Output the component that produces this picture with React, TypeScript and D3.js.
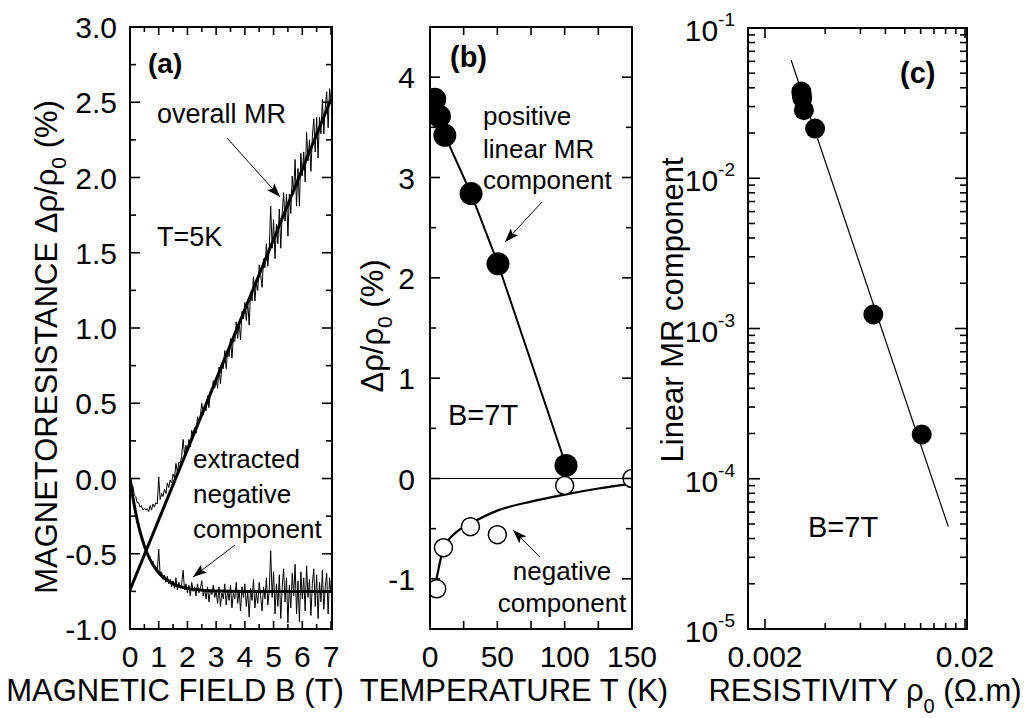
import React from 'react';
import * as d3 from 'd3';

// ---------- Panel (a) data: MR vs magnetic field, T = 5 K ----------
const B_STEP = 0.05;
const overallMR = [
  0.00, -0.04, -0.05, -0.11, -0.12, -0.16, -0.16, -0.19, -0.18, -0.21,
  -0.20, -0.21, -0.20, -0.22, -0.18, -0.21, -0.17, -0.19, -0.16, -0.17,
  0.01, -0.14, -0.10, -0.12, -0.07, -0.10, -0.03, -0.06, -0.01, -0.03,
  0.03, 0.00, 0.10, 0.04, 0.11, 0.10, 0.15, 0.26, 0.16, 0.22,
  0.18, 0.26, 0.21, 0.32, 0.29, 0.34, 0.30, 0.41, 0.37, 0.42,
  0.50, 0.42, 0.48, 0.45, 0.55, 0.47, 0.58, 0.57, 0.65, 0.60,
  0.66, 0.60, 0.74, 0.63, 0.74, 0.73, 0.85, 0.73, 0.85, 0.81,
  0.93, 0.80, 0.93, 0.91, 1.04, 0.93, 1.04, 0.92, 1.11, 1.06,
  1.17, 1.05, 1.17, 1.02, 1.24, 1.18, 1.34, 1.18, 1.30, 1.25,
  1.42, 1.35, 1.27, 1.46, 1.40, 1.56, 1.41, 1.53, 1.81, 1.53,
  1.72, 1.46, 1.69, 1.56, 1.79, 1.53, 1.76, 1.90, 1.71, 1.89,
  1.61, 1.89, 1.76, 2.01, 1.89, 2.12, 1.81, 2.06, 1.81, 2.16,
  2.01, 2.17, 1.97, 2.30, 2.11, 2.25, 2.04, 2.27, 2.39, 2.17,
  2.40, 2.13, 2.40, 2.29, 2.52, 2.29, 2.46, 2.57, 2.33, 2.59,
  2.51,
];
const extractedNeg = [
  0.00, -0.07, -0.11, -0.19, -0.22, -0.29, -0.31, -0.36, -0.38, -0.43,
  -0.44, -0.48, -0.49, -0.53, -0.52, -0.57, -0.55, -0.60, -0.59, -0.62,
  -0.47, -0.64, -0.62, -0.67, -0.64, -0.69, -0.65, -0.70, -0.67, -0.72,
  -0.68, -0.73, -0.66, -0.74, -0.69, -0.73, -0.70, -0.61, -0.74, -0.70,
  -0.76, -0.71, -0.78, -0.69, -0.75, -0.72, -0.78, -0.70, -0.76, -0.73,
  -0.68, -0.78, -0.74, -0.80, -0.72, -0.82, -0.74, -0.77, -0.71, -0.79,
  -0.75, -0.83, -0.72, -0.85, -0.76, -0.80, -0.70, -0.84, -0.74, -0.81,
  -0.71, -0.86, -0.76, -0.80, -0.69, -0.83, -0.74, -0.88, -0.72, -0.79,
  -0.70, -0.85, -0.75, -0.92, -0.73, -0.81, -0.67, -0.86, -0.76, -0.83,
  -0.69, -0.78, -0.88, -0.72, -0.80, -0.66, -0.84, -0.74, -0.48, -0.79,
  -0.62, -0.90, -0.70, -0.85, -0.64, -0.93, -0.72, -0.60, -0.82, -0.66,
  -0.96, -0.71, -0.86, -0.63, -0.78, -0.57, -0.90, -0.68, -0.95, -0.62,
  -0.80, -0.66, -0.88, -0.58, -0.79, -0.67, -0.91, -0.70, -0.60, -0.85,
  -0.64, -0.93, -0.69, -0.82, -0.61, -0.87, -0.72, -0.63, -0.90, -0.66,
  -0.76,
];
const linearFitB = [0, 7];
const linearFitMR = [-0.74, 2.52];
const negFitB = [0, 0.1, 0.2, 0.3, 0.4, 0.5, 0.6, 0.7, 0.8, 1.0, 1.2, 1.4, 1.6, 2.0, 2.5, 3.0, 4.0, 5.0, 6.0, 7.0];
const negFitMR = [0, -0.125, -0.229, -0.316, -0.387, -0.447, -0.497, -0.539, -0.573, -0.626, -0.663, -0.688, -0.709, -0.73, -0.742, -0.747, -0.75, -0.75, -0.75, -0.75];
const xTicksA = [0, 1, 2, 3, 4, 5, 6, 7];
const yTicksA = [-1.0, -0.5, 0.0, 0.5, 1.0, 1.5, 2.0, 2.5, 3.0];

// ---------- Panel (b) data: components vs temperature, B = 7 T ----------
const tempPos = [3.5, 7, 11, 30.5, 50.5, 101];
const mrPos = [3.78, 3.61, 3.42, 2.84, 2.14, 0.13];
const tempNeg = [5, 10, 30, 50, 100, 150];
const mrNeg = [-1.1, -0.69, -0.48, -0.56, -0.07, 0.0];
const negCurveT = [2.5, 5, 10, 20, 30, 50, 75, 100, 125, 150];
const negCurveMR = [-1.16, -0.99, -0.7, -0.53, -0.45, -0.32, -0.23, -0.16, -0.1, -0.05];
const xTicksB = [0, 50, 100, 150];
const yTicksB = [-1, 0, 1, 2, 3, 4];

// ---------- Panel (c) data: linear MR component vs resistivity ----------
const rho0 = [0.00304, 0.00305, 0.00307, 0.00313, 0.00356, 0.00696, 0.01215];
const linMR = [0.0378, 0.0361, 0.0342, 0.0284, 0.0214, 0.00124, 0.000197];
const fitRho = [0.0027, 0.0165];
const fitLinMR = [0.0612, 0.000048];
const xTicksC = [0.002, 0.02];
const yTicksCExp = [-1, -2, -3, -4, -5];

const FONT = "'Liberation Sans', Arial, Helvetica, sans-serif";

export default function App() {
  // scales
  const xA = d3.scaleLinear().domain([0, 7]).range([130, 331]);
  const yA = d3.scaleLinear().domain([-1, 3]).range([629, 27]);
  const xB = d3.scaleLinear().domain([0, 150]).range([430, 632]);
  const yB = d3.scaleLinear().domain([-1.5, 4.5]).range([629, 27]);
  const xC = d3.scaleLog().domain([0.002, 0.02]).range([765, 965]);
  const yC = d3.scaleLog().domain([1e-5, 1e-1]).range([629, 28]);

  const frameA = { x0: 130, x1: 332, y0: 27, y1: 629 };
  const frameB = { x0: 430, x1: 632, y0: 27, y1: 629 };
  const frameC = { x0: 748, x1: 967, y0: 28, y1: 629 };

  const lineA = d3.line<number>().x((_, i) => xA(i * B_STEP)).y((d) => yA(d));
  const linFitA = d3.line<number>().x((_, i) => xA(linearFitB[i])).y((d) => yA(d));
  const negFitA = d3.line<number>().x((_, i) => xA(negFitB[i])).y((d) => yA(d)).curve(d3.curveMonotoneX);

  const posLineB = d3.line<number>().x((_, i) => xB(tempPos[i])).y((d) => yB(d));
  const negLineB = d3.line<number>().x((_, i) => xB(negCurveT[i])).y((d) => yB(d)).curve(d3.curveMonotoneX);

  const fitLineC = d3.line<number>().x((_, i) => xC(fitRho[i])).y((d) => yC(d));

  const tickStroke = { stroke: '#000', strokeWidth: 1.6 };

  const yTicks = (ys: number[], f: { x0: number; x1: number }, len: number) =>
    ys.map((y, i) => (
      <g key={`yt${f.x0}-${i}-${len}`}>
        <line x1={f.x0} x2={f.x0 + len} y1={y} y2={y} {...tickStroke} />
        <line x1={f.x1} x2={f.x1 - len} y1={y} y2={y} {...tickStroke} />
      </g>
    ));
  const xTicks = (xs: number[], f: { y0: number; y1: number }, len: number, key: string) =>
    xs.map((x, i) => (
      <g key={`xt${key}-${i}-${len}`}>
        <line x1={x} x2={x} y1={f.y1} y2={f.y1 - len} {...tickStroke} />
        <line x1={x} x2={x} y1={f.y0} y2={f.y0 + len} {...tickStroke} />
      </g>
    ));

  const aMajorY = yTicksA.map((v) => yA(v));
  const aMinorY = d3.range(-0.75, 3, 0.5).map((v) => yA(v));
  const aMajorX = xTicksA.map((v) => xA(v));
  const aMinorX = d3.range(0.5, 7, 1).map((v) => xA(v));

  const bMajorY = yTicksB.map((v) => yB(v));
  const bMinorY = [-1.5, -0.5, 0.5, 1.5, 2.5, 3.5, 4.5].map((v) => yB(v));
  const bMajorX = [0, 50, 100, 150].map((v) => xB(v));
  const bMinorX = [25, 75, 125].map((v) => xB(v));

  const cMajorY = yTicksCExp.map((e) => yC(Math.pow(10, e)));
  const cMinorY: number[] = [];
  [-5, -4, -3, -2].forEach((e) => {
    for (let k = 2; k <= 9; k++) cMinorY.push(yC(k * Math.pow(10, e)));
  });
  const cMajorX = xTicksC.map((v) => xC(v));
  const cMinorX = [2, 3, 4, 5, 6, 7, 8, 9].map((k) => xC(0.002 * k));

  const txt = { fontFamily: FONT, fill: '#000' } as const;
  const TICK_FS = 30;

  return (
    <svg width={1029} height={718} viewBox="0 0 1029 718"
      style={{ position: 'absolute', left: 0, top: 0, background: '#fff' }}>
      <defs>
        <clipPath id="clipA"><rect x={frameA.x0} y={frameA.y0} width={frameA.x1 - frameA.x0} height={frameA.y1 - frameA.y0} /></clipPath>
        <clipPath id="clipB"><rect x={frameB.x0} y={frameB.y0} width={frameB.x1 - frameB.x0} height={frameB.y1 - frameB.y0} /></clipPath>
        <clipPath id="clipC"><rect x={frameC.x0} y={frameC.y0} width={frameC.x1 - frameC.x0} height={frameC.y1 - frameC.y0} /></clipPath>
        <marker id="arrow" markerUnits="userSpaceOnUse" markerWidth={16} markerHeight={10}
          refX={14} refY={5} orient="auto">
          <path d="M0,0 L14,5 L0,10 L3,5 z" fill="#000" />
        </marker>
      </defs>
      <rect x={0} y={0} width={1029} height={718} fill="#fff" />

      {/* ================= Panel (a) ================= */}
      <g clipPath="url(#clipA)">
        <path d={lineA(overallMR) || ''} fill="none" stroke="#000" strokeWidth={1} />
        <path d={lineA(extractedNeg) || ''} fill="none" stroke="#000" strokeWidth={1} />
        <path d={linFitA(linearFitMR) || ''} fill="none" stroke="#000" strokeWidth={3} />
        <path d={negFitA(negFitMR) || ''} fill="none" stroke="#000" strokeWidth={3} />
      </g>
      <rect x={frameA.x0} y={frameA.y0} width={frameA.x1 - frameA.x0} height={frameA.y1 - frameA.y0}
        fill="none" stroke="#000" strokeWidth={2} />
      {yTicks(aMajorY, frameA, 10)}
      {yTicks(aMinorY, frameA, 6)}
      {xTicks(aMajorX, frameA, 8, 'a')}
      {xTicks(aMinorX, frameA, 5, 'am')}
      {yTicksA.map((v) => (
        <text key={`aly${v}`} x={117} y={yA(v) + 11} textAnchor="end" fontSize={TICK_FS} {...txt}>
          {v.toFixed(1)}
        </text>
      ))}
      {xTicksA.map((v) => (
        <text key={`alx${v}`} x={xA(v)} y={667} textAnchor="middle" fontSize={TICK_FS} {...txt}>{v}</text>
      ))}
      <text x={148} y={73} fontSize={28} fontWeight="bold" {...txt}>(a)</text>
      <text x={157} y={123} fontSize={27} {...txt}>overall MR</text>
      <line x1={227} y1={138} x2={280} y2={197} stroke="#000" strokeWidth={1} markerEnd="url(#arrow)" />
      <text x={157} y={246} fontSize={27} {...txt}>T=5K</text>
      <text x={193} y={468} fontSize={26} {...txt}>extracted</text>
      <text x={193} y={503} fontSize={26} {...txt}>negative</text>
      <text x={193} y={538} fontSize={26} {...txt}>component</text>
      <line x1={235} y1={545} x2={193} y2={577} stroke="#000" strokeWidth={1} markerEnd="url(#arrow)" />
      <text transform="translate(57,347) rotate(-90)" textAnchor="middle" fontSize={31} {...txt}>
        MAGNETORESISTANCE Δρ/ρ<tspan fontSize={21} dy={9}>0</tspan><tspan dy={-9}> (%)</tspan>
      </text>
      <text x={175} y={701} textAnchor="middle" fontSize={31} {...txt}>MAGNETIC FIELD B (T)</text>

      {/* ================= Panel (b) ================= */}
      <line x1={frameB.x0} x2={frameB.x1} y1={yB(0)} y2={yB(0)} stroke="#000" strokeWidth={1} />
      <g clipPath="url(#clipB)">
        <path d={posLineB(mrPos) || ''} fill="none" stroke="#000" strokeWidth={2} />
        <path d={negLineB(negCurveMR) || ''} fill="none" stroke="#000" strokeWidth={2.2} />
        {mrPos.map((v, i) => (
          <circle key={`bp${i}`} cx={xB(tempPos[i])} cy={yB(v)} r={11.5} fill="#000" />
        ))}
        {mrNeg.map((v, i) => (
          <circle key={`bn${i}`} cx={xB(tempNeg[i])} cy={yB(v)} r={9} fill="#fff" stroke="#000" strokeWidth={1.5} />
        ))}
      </g>
      <rect x={frameB.x0} y={frameB.y0} width={frameB.x1 - frameB.x0} height={frameB.y1 - frameB.y0}
        fill="none" stroke="#000" strokeWidth={2} />
      {yTicks(bMajorY, frameB, 10)}
      {yTicks(bMinorY, frameB, 6)}
      {xTicks(bMajorX, frameB, 8, 'b')}
      {xTicks(bMinorX, frameB, 8, 'bm')}
      {yTicksB.map((v) => (
        <text key={`bly${v}`} x={415} y={yB(v) + 11} textAnchor="end" fontSize={TICK_FS} {...txt}>{v}</text>
      ))}
      {xTicksB.map((v) => (
        <text key={`blx${v}`} x={xB(v)} y={667} textAnchor="middle" fontSize={TICK_FS} {...txt}>{v}</text>
      ))}
      <text x={450} y={67} fontSize={29} fontWeight="bold" {...txt}>(b)</text>
      <text x={483} y={125} fontSize={26} {...txt}>positive</text>
      <text x={483} y={158} fontSize={26} {...txt}>linear MR</text>
      <text x={483} y={189} fontSize={26} {...txt}>component</text>
      <line x1={542} y1={202} x2={505} y2={242} stroke="#000" strokeWidth={1} markerEnd="url(#arrow)" />
      <text x={448} y={425} fontSize={29} {...txt}>B=7T</text>
      <line x1={540} y1={557} x2={513} y2={530} stroke="#000" strokeWidth={1} markerEnd="url(#arrow)" />
      <text x={562} y={580} textAnchor="middle" fontSize={26} {...txt}>negative</text>
      <text x={562} y={612} textAnchor="middle" fontSize={26} {...txt}>component</text>
      <text transform="translate(383,326) rotate(-90)" textAnchor="middle" fontSize={31} {...txt}>
        Δρ/ρ<tspan fontSize={21} dy={9}>0</tspan><tspan dy={-9}> (%)</tspan>
      </text>
      <text x={514} y={701} textAnchor="middle" fontSize={31} {...txt}>TEMPERATURE T (K)</text>

      {/* ================= Panel (c) ================= */}
      <g clipPath="url(#clipC)">
        <path d={fitLineC(fitLinMR) || ''} fill="none" stroke="#000" strokeWidth={1.2} />
        {linMR.map((v, i) => (
          <circle key={`cp${i}`} cx={xC(rho0[i])} cy={yC(v)} r={10} fill="#000" />
        ))}
      </g>
      <rect x={frameC.x0} y={frameC.y0} width={frameC.x1 - frameC.x0} height={frameC.y1 - frameC.y0}
        fill="none" stroke="#000" strokeWidth={2} />
      {yTicks(cMajorY, frameC, 12)}
      {yTicks(cMinorY, frameC, 7)}
      {xTicks(cMajorX, frameC, 10, 'c')}
      {xTicks(cMinorX, frameC, 6, 'cm')}
      {yTicksCExp.map((e) => (
        <text key={`cly${e}`} x={735} y={yC(Math.pow(10, e)) + 13} textAnchor="end" fontSize={30} {...txt}>
          10<tspan fontSize={19} dy={-15}>{e}</tspan>
        </text>
      ))}
      {xTicksC.map((v) => (
        <text key={`clx${v}`} x={xC(v)} y={667} textAnchor="middle" fontSize={TICK_FS} {...txt}>{v}</text>
      ))}
      <text x={900} y={83} fontSize={29} fontWeight="bold" {...txt}>(c)</text>
      <text x={808} y={537} fontSize={29} {...txt}>B=7T</text>
      <text transform="translate(683,310) rotate(-90)" textAnchor="middle" fontSize={31} {...txt}>
        Linear MR component
      </text>
      <text x={865} y={701} textAnchor="middle" fontSize={31} {...txt}>
        RESISTIVITY ρ<tspan fontSize={20} dy={12}>0</tspan><tspan dy={-12}> (Ω.m)</tspan>
      </text>
    </svg>
  );
}
